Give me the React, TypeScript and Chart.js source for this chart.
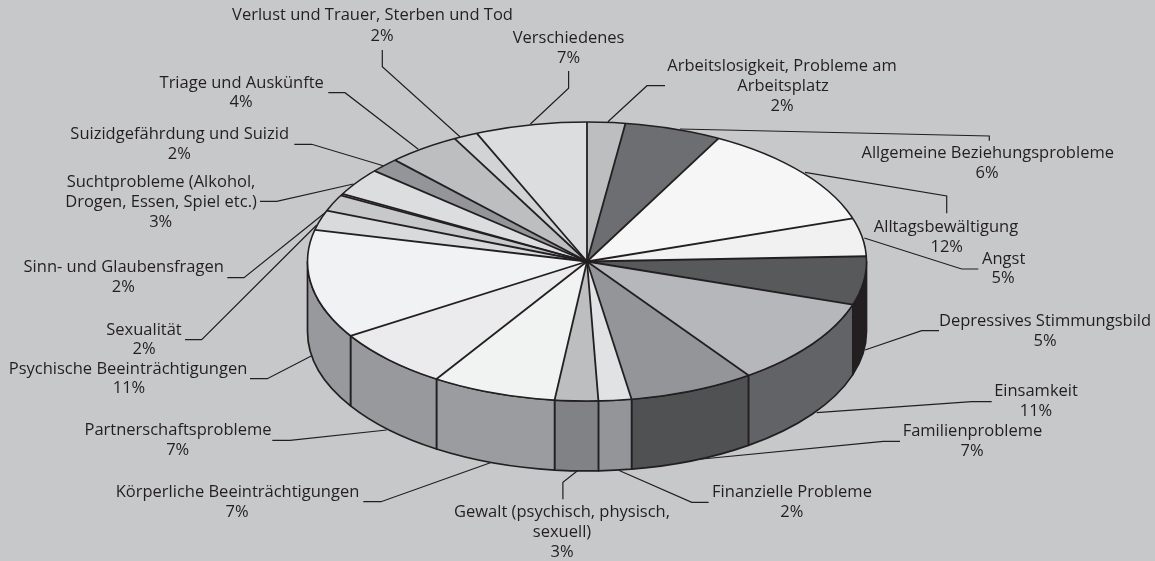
import React, { useEffect, useRef } from "react";
import { Chart, registerables } from "chart.js";

Chart.register(...registerables);

// ---- data (clockwise from 12 o'clock) ----
const categories = [
  "Arbeitslosigkeit, Probleme am Arbeitsplatz",
  "Allgemeine Beziehungsprobleme",
  "Alltagsbewältigung",
  "Angst",
  "Depressives Stimmungsbild",
  "Einsamkeit",
  "Familienprobleme",
  "Finanzielle Probleme",
  "Gewalt (psychisch, physisch, sexuell)",
  "Körperliche Beeinträchtigungen",
  "Partnerschaftsprobleme",
  "Psychische Beeinträchtigungen",
  "Sexualität",
  "Sinn- und Glaubensfragen",
  "",
  "Suchtprobleme (Alkohol, Drogen, Essen, Spiel etc.)",
  "Suizidgefährdung und Suizid",
  "Triage und Auskünfte",
  "Verlust und Trauer, Sterben und Tod",
  "Verschiedenes",
];
const sliceShares = [2.2, 5.6, 12.2, 4.4, 5.6, 10.2, 7.25, 1.9, 2.5, 7.2, 7.0, 12.6, 2.3, 1.9, 0.2, 3.2, 1.7, 4.2, 1.4, 6.45];

// ---- styles ----
const topColors = [
  "#bcbec0", "#6d6e71", "#f6f6f6", "#f1f1f2", "#58595b", "#b6b7ba", "#939598", "#e1e2e4", "#bcbec0", "#f1f2f2",
  "#ebebed", "#f1f2f4", "#d9dadc", "#c7c8ca", "#d1d3d4", "#dcddde", "#939598", "#bcbec0", "#d1d3d4", "#dcddde",
];
const sideColors = [
  "#808285", "#808285", "#808285", "#808285", "#231f20", "#626366", "#505153", "#939598", "#808285", "#9b9ca0",
  "#98999c", "#98999c", "#98999c", "#98999c", "#98999c", "#98999c", "#98999c", "#98999c", "#98999c", "#98999c",
];
const BG = "#c7c8ca";
const INK = "#231f20";
const FONT = '16.5px "Open Sans"';
const TILT = 0.499;
const DEPTH = 70;
const RADIUS = 279.5;

// ---- annotation layout: text lines [text, centre x, baseline y] ----
type Line = [string, number, number];
const labelLines: Line[] = [
  ["Arbeitslosigkeit, Probleme am", 782, 71], ["Arbeitsplatz", 783, 90.7], ["2%", 782, 110.7],
  ["Allgemeine Beziehungsprobleme", 987.7, 158.3], ["6%", 987, 178.3],
  ["Alltagsbewältigung", 946, 231.7], ["12%", 946.7, 251.7],
  ["Angst", 1003.7, 264], ["5%", 1003, 283.3],
  ["Depressives Stimmungsbild", 1045, 326], ["5%", 1045, 345.7],
  ["Einsamkeit", 1036, 396], ["11%", 1036, 416],
  ["Familienprobleme", 972.5, 436], ["7%", 972, 456],
  ["Finanzielle Probleme", 792, 497.3], ["2%", 791.8, 517.3],
  ["Gewalt (psychisch, physisch,", 562, 517.3], ["sexuell)", 562, 537.3], ["3%", 562, 557.3],
  ["Körperliche Beeinträchtigungen", 237.5, 496.7], ["7%", 237, 516.7],
  ["Partnerschaftsprobleme", 178, 435], ["7%", 177.7, 455],
  ["Psychische Beeinträchtigungen", 128, 374], ["11%", 129, 393.3],
  ["Sexualität", 144, 335], ["2%", 144, 354.3],
  ["Sinn- und Glaubensfragen", 123.7, 272.3], ["2%", 123.3, 292.3],
  ["Suchtprobleme (Alkohol,", 161, 187.3], ["Drogen, Essen, Spiel etc.)", 161, 206.7], ["3%", 160.7, 226.7],
  ["Suizidgefährdung und Suizid", 179.7, 139.3], ["2%", 179.3, 159.3],
  ["Triage und Auskünfte", 241.7, 88.3], ["4%", 241, 107.3],
  ["Verlust und Trauer, Sterben und Tod", 372.5, 20], ["2%", 382, 41],
  ["Verschiedenes", 568.6, 43.3], ["7%", 568.6, 63.3],
];
const leaderPaths: number[][] = [
  [665, 85.7, 647, 85.7, 607.9, 121.7],
  [989.3, 140.7, 989.3, 136, 680, 129],
  [946.7, 213.3, 946.7, 196, 805, 172.3],
  [978.3, 269, 961.7, 269, 864.3, 238],
  [939, 330.7, 921.7, 330.7, 865, 350],
  [991.7, 401.7, 971.7, 401.7, 816.7, 412.7],
  [900, 441.3, 883.3, 441.3, 697, 459.5],
  [708.6, 502.3, 691.8, 502.3, 618.6, 470.3],
  [562.9, 499.3, 562.9, 482.3, 577.5, 470.7],
  [363.3, 501.7, 381, 501.7, 491.8, 462.3],
  [272.3, 440.3, 290, 440.3, 386.7, 430],
  [250, 378.7, 267.3, 378.7, 311.7, 355.7],
  [185, 339.7, 201.7, 339.7, 316.7, 225],
  [227.3, 277.7, 244, 277.7, 326, 212],
  [260, 201.3, 276.7, 201.3, 353.3, 184],
  [294.3, 144.3, 311.7, 144.3, 383.3, 165.7],
  [328.3, 92.7, 345, 92.7, 418.3, 149.3],
  [382.3, 50, 382.3, 66.7, 460, 136.7],
  [568.6, 71, 568.6, 88.3, 530.4, 124],
];

const pie3d = {
  id: "pie3d",
  beforeDatasetsDraw(chart: any) {
    const ctx: CanvasRenderingContext2D = chart.ctx;
    const arcs = chart.getDatasetMeta(0).data;
    const { x: cx, y: cy, outerRadius: R } = arcs[0];

    ctx.save();
    ctx.strokeStyle = INK;
    ctx.lineWidth = 1.2;
    for (const p of leaderPaths) {
      ctx.beginPath();
      ctx.moveTo(p[0], p[1]);
      for (let i = 2; i < p.length; i += 2) ctx.lineTo(p[i], p[i + 1]);
      ctx.stroke();
    }
    // side wall of each slice, visible in the front half only
    ctx.lineJoin = "round";
    arcs.forEach((a: any, i: number) => {
      const s = Math.max(a.startAngle, 0);
      const e = Math.min(a.endAngle, Math.PI);
      if (e <= s) return;
      ctx.beginPath();
      ctx.ellipse(cx, cy, R, R * TILT, 0, s, e);
      ctx.ellipse(cx, cy + DEPTH, R, R * TILT, 0, e, s, true);
      ctx.closePath();
      ctx.fillStyle = sideColors[i];
      ctx.fill();
      ctx.lineWidth = 1.7;
      ctx.stroke();
    });
    ctx.restore();

    // squash the library's own arcs into the tilted top face
    ctx.save();
    ctx.translate(cx, cy);
    ctx.scale(1, TILT);
    ctx.translate(-cx, -cy);
  },
  afterDatasetsDraw(chart: any) {
    const ctx: CanvasRenderingContext2D = chart.ctx;
    ctx.restore();
    const arcs = chart.getDatasetMeta(0).data;
    const { x: cx, y: cy, outerRadius: R } = arcs[0];

    ctx.save();
    ctx.strokeStyle = INK;
    ctx.lineWidth = 1.8;
    arcs.forEach((a: any) => {
      ctx.beginPath();
      ctx.moveTo(cx, cy);
      ctx.lineTo(cx + R * Math.cos(a.startAngle), cy + R * TILT * Math.sin(a.startAngle));
      ctx.stroke();
    });
    ctx.lineWidth = 1.6;
    ctx.beginPath();
    ctx.ellipse(cx, cy, R, R * TILT, 0, 0, Math.PI * 2);
    ctx.stroke();

    ctx.fillStyle = INK;
    ctx.font = FONT;
    ctx.textAlign = "center";
    ctx.textBaseline = "alphabetic";
    for (const [t, x, y] of labelLines) ctx.fillText(t, x, y);
    ctx.restore();
  },
};

export default function App() {
  const ref = useRef<HTMLCanvasElement>(null);
  useEffect(() => {
    document.body.style.margin = "0";
    document.body.style.background = BG;
    const chart = new Chart(ref.current!, {
      type: "pie",
      data: {
        labels: categories,
        datasets: [
          {
            data: sliceShares,
            backgroundColor: topColors,
            borderWidth: 0,
            radius: RADIUS,
            hoverOffset: 0,
          } as any,
        ],
      },
      options: {
        animation: false,
        responsive: false,
        events: [],
        layout: { padding: { left: 19, right: 0, top: 0, bottom: 38 } },
        plugins: { legend: { display: false }, tooltip: { enabled: false }, title: { display: false } },
      },
      plugins: [pie3d],
    });
    return () => chart.destroy();
  }, []);
  return <canvas ref={ref} width={1155} height={561} style={{ display: "block", width: 1155, height: 561, background: BG }} />;
}
